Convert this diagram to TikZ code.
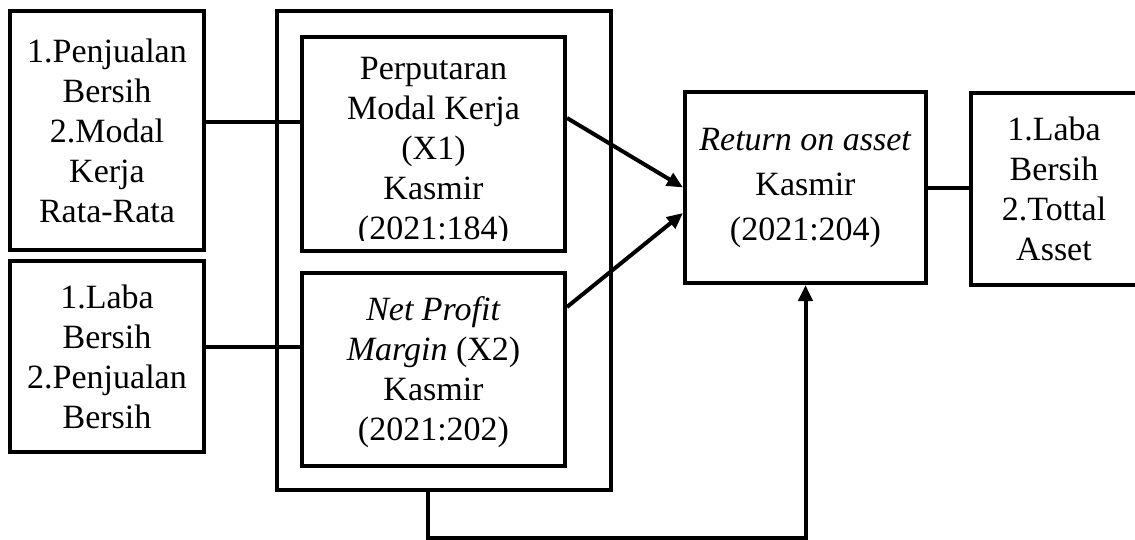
\documentclass[tikz,border=0pt]{standalone}
\usepackage{fontspec}
\setmainfont{Liberation Serif}
\usetikzlibrary{arrows.meta}

\begin{document}
\begin{tikzpicture}[x=0.5pt,y=-0.5pt,
  box/.style={draw,line width=2pt,inner sep=0pt,align=center,
    font=\fontsize{17}{20}\selectfont},
  link/.style={line width=2pt},
  arr/.style={line width=2pt,-{Triangle[length=8pt,width=7pt]}}] % px grid
\useasboundingbox (0,0) rectangle (1135,540);
\clip (0,0) rectangle (1135,540);

\node[box,minimum width=97pt,minimum height=119.5pt] (left1) at (107,130.5)
  {1.Penjualan\\Bersih\\2.Modal\\Kerja\\Rata-Rata};
\node[box,minimum width=97pt,minimum height=95.5pt] (left2) at (107,356.5)
  {1.Laba\\Bersih\\2.Penjualan\\Bersih};

\node[box,minimum width=167pt,minimum height=239.5pt] (grp) at (444,250.5) {};
\node[box,minimum width=131.5pt,minimum height=107pt] (in1) at (433.5,144) {};
\begin{scope}
\clip (in1.north west) rectangle ([yshift=6.5pt]in1.south east);
\node[box,draw=none] (txt1) at ([yshift=-4pt]in1.center)
  {Perputaran\\Modal Kerja\\(X1)\\Kasmir\\(2021:184)};
\end{scope}
\node[box,minimum width=131.5pt,minimum height=96.5pt] (in2) at (433.5,369.5) {};
\node[box,draw=none] (txt2) at ([yshift=-1.5pt]in2.center)
  {\textit{Net Profit}\\\textit{Margin} (X2)\\Kasmir\\(2021:202)};

\node[box,minimum width=120.5pt,minimum height=95.5pt,
  font=\fontsize{17}{22.5}\selectfont] (roa) at (805.5,187.5)
  {\textit{Return on asset}\\Kasmir\\(2021:204)};
\node[box,minimum width=83pt,minimum height=96pt] (right) at (1054,189)
  {1.Laba\\Bersih\\2.Tottal\\Asset};

\draw[link] ([yshift=4.25pt]left1.east) -- ([yshift=4.25pt]left1.east -| in1.west);
\draw[link] ([yshift=4.75pt]left2.east) -- ([yshift=4.75pt]left2.east -| in2.west);
\draw[link] (roa.east) -- (roa.east -| right.west);

\draw[arr] ([yshift=13pt]in1.east) -- (roa.west);
\draw[arr] ([yshift=31.25pt]in2.east) -- ([yshift=-12.75pt]roa.west);
\draw[arr] ([xshift=-8pt]grp.south) -- ++(0,46) -| (roa.south);
\end{tikzpicture}
\end{document}
